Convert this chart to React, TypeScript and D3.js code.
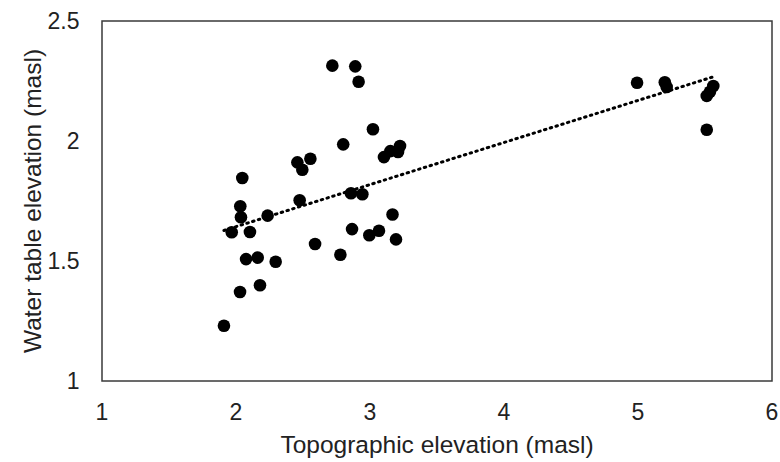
import React from "react";
import * as d3 from "d3";

const topoElevation: number[] = [
  1.91, 1.968, 2.03, 2.032, 2.037, 2.047, 2.075, 2.104, 2.162, 2.179, 2.236,
  2.296, 2.458, 2.475, 2.495, 2.555, 2.59, 2.719, 2.779, 2.8, 2.858, 2.866,
  2.89, 2.915, 2.943, 2.995, 3.022, 3.067, 3.104, 3.152, 3.168, 3.194, 3.209,
  3.224, 4.993, 5.2, 5.214, 5.513, 5.537, 5.562, 5.513,
];
const waterTable: number[] = [
  1.23, 1.62, 1.371, 1.728, 1.682, 1.846, 1.508, 1.621, 1.514, 1.399, 1.689,
  1.497, 1.911, 1.753, 1.88, 1.926, 1.571, 2.314, 1.526, 1.986, 1.782, 1.633,
  2.311, 2.247, 1.778, 1.607, 2.049, 1.626, 1.933, 1.958, 1.694, 1.59, 1.954,
  1.979, 2.243, 2.245, 2.225, 2.188, 2.205, 2.229, 2.047,
];
const xTicks: number[] = [1, 2, 3, 4, 5, 6];
const yTicks: number[] = [1, 1.5, 2, 2.5];
const xTitle = "Topographic elevation (masl)";
const yTitle = "Water table elevation (masl)";

export default function App() {
  const W = 780;
  const H = 462;
  const left = 102;
  const right = 772;
  const top = 21;
  const bottom = 381;
  const x = d3.scaleLinear().domain([1, 6]).range([left, right]);
  const y = d3.scaleLinear().domain([1, 2.5]).range([bottom, top]);

  const n = topoElevation.length;
  const mx = d3.mean(topoElevation) as number;
  const my = d3.mean(waterTable) as number;
  let sxy = 0;
  let sxx = 0;
  for (let i = 0; i < n; i++) {
    sxy += (topoElevation[i] - mx) * (waterTable[i] - my);
    sxx += (topoElevation[i] - mx) ** 2;
  }
  const slope = sxy / sxx;
  const intercept = my - slope * mx;
  const [xmin, xmax] = d3.extent(topoElevation) as [number, number];
  const trend = d3.line<number>()
    .x((d) => x(d))
    .y((d) => y(intercept + slope * d))([xmin, xmax]);

  const font = "'Liberation Sans', Arial, sans-serif";
  return (
    <svg
      width={W}
      height={H}
      style={{ position: "absolute", left: 0, top: 0, background: "#fff" }}
      fontFamily={font}
    >
      <rect x={left} y={top} width={right - left} height={bottom - top} fill="none" stroke="#3a3a3a" strokeWidth={1.5} />
      {xTicks.map((t) => (
        <text key={"x" + t} x={x(t)} y={420} textAnchor="middle" fontSize={23} fill="#222">
          {t}
        </text>
      ))}
      {yTicks.map((t) => (
        <text key={"y" + t} x={left - 22.5} y={y(t) + 8} textAnchor="end" fontSize={23} fill="#222">
          {t}
        </text>
      ))}
      <text x={(left + right) / 2} y={453} textAnchor="middle" fontSize={24.5} fill="#222">
        {xTitle}
      </text>
      <text
        transform={`translate(41, ${(top + bottom) / 2}) rotate(-90)`}
        textAnchor="middle"
        fontSize={24.5}
        fill="#222"
      >
        {yTitle}
      </text>
      <path d={trend ?? ""} fill="none" stroke="#000" strokeWidth={3} strokeDasharray="1.5 4.5" strokeLinecap="round" />
      {topoElevation.map((tv, i) => (
        <circle key={i} cx={x(tv)} cy={y(waterTable[i])} r={6.3} fill="#000" />
      ))}
    </svg>
  );
}
